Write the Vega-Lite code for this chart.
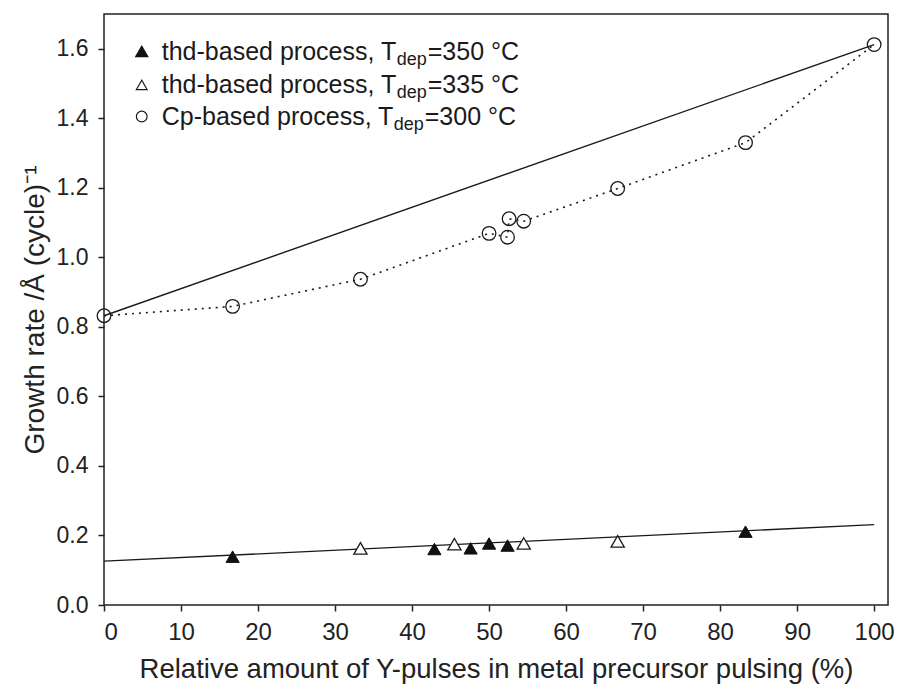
{
  "$schema": "https://vega.github.io/schema/vega-lite/v6.json",
  "width": 784,
  "height": 591,
  "autosize": {"type": "none"},
  "padding": {"left": 104, "top": 14, "right": 10, "bottom": 84},
  "background": "white",
  "config": {
    "font": "Liberation Sans",
    "view": {"stroke": "#222", "strokeWidth": 1.5},
    "axis": {
      "grid": false,
      "domain": false,
      "tickColor": "#222",
      "tickWidth": 1.5,
      "tickSize": 6,
      "labelColor": "#222",
      "titleColor": "#222",
      "labelFont": "Liberation Sans",
      "titleFont": "Liberation Sans",
      "titleFontWeight": "normal"
    }
  },
  "datasets": {
    "cp": [
      {"x": 0, "y": 0.832},
      {"x": 16.7, "y": 0.859},
      {"x": 33.3, "y": 0.937},
      {"x": 50.0, "y": 1.069},
      {"x": 52.4, "y": 1.058},
      {"x": 52.6, "y": 1.111},
      {"x": 54.5, "y": 1.104},
      {"x": 66.7, "y": 1.198},
      {"x": 83.3, "y": 1.330},
      {"x": 100, "y": 1.612}
    ],
    "upper": [
      {"x": 0, "y": 0.832},
      {"x": 100, "y": 1.612}
    ],
    "lower": [
      {"x": 0, "y": 0.126},
      {"x": 100, "y": 0.231}
    ],
    "thd350": [
      {"x": 16.7, "y": 0.139},
      {"x": 42.9, "y": 0.161},
      {"x": 47.6, "y": 0.163},
      {"x": 50.0, "y": 0.177},
      {"x": 52.4, "y": 0.171},
      {"x": 83.3, "y": 0.211}
    ],
    "thd335": [
      {"x": 33.3, "y": 0.163},
      {"x": 45.5, "y": 0.175},
      {"x": 54.5, "y": 0.177},
      {"x": 66.7, "y": 0.183}
    ],
    "legend": [
      {"series": "thd350", "label": "thd-based process, T", "sub": "dep", "temp": "=350 °C"},
      {"series": "thd335", "label": "thd-based process, T", "sub": "dep", "temp": "=335 °C"},
      {"series": "cp", "label": "Cp-based process, T", "sub": "dep", "temp": "=300 °C"}
    ]
  },
  "layer": [
    {
      "data": {"name": "upper"},
      "mark": {"type": "line", "color": "#1a1a1a", "strokeWidth": 1.4},
      "encoding": {
        "x": {
          "field": "x",
          "type": "quantitative",
          "scale": {"domain": [0, 101.8], "nice": false, "zero": false},
          "axis": {
            "values": [0, 10, 20, 30, 40, 50, 60, 70, 80, 90, 100],
            "format": "d",
            "labelFontSize": 24,
            "labelPadding": 9,
            "titleFontSize": 27.5,
            "titlePadding": 11,
            "title": "Relative amount of Y-pulses in metal precursor pulsing (%)"
          }
        },
        "y": {
          "field": "y",
          "type": "quantitative",
          "scale": {"domain": [0, 1.7], "nice": false},
          "axis": {
            "values": [0, 0.2, 0.4, 0.6, 0.8, 1.0, 1.2, 1.4, 1.6],
            "format": ".1f",
            "labelFontSize": 23,
            "labelPadding": 10,
            "titleFontSize": 28,
            "titlePadding": 7,
            "title": "Growth rate /Å (cycle)⁻¹"
          }
        }
      }
    },
    {
      "data": {"name": "lower"},
      "mark": {"type": "line", "color": "#1a1a1a", "strokeWidth": 1.3},
      "encoding": {
        "x": {"field": "x", "type": "quantitative", "scale": {"domain": [0, 101.8], "nice": false, "zero": false}},
        "y": {"field": "y", "type": "quantitative", "scale": {"domain": [0, 1.7], "nice": false}}
      }
    },
    {
      "data": {"name": "cp"},
      "mark": {"type": "line", "color": "#1a1a1a", "strokeWidth": 1.6, "strokeDash": [2, 5]},
      "encoding": {
        "x": {"field": "x", "type": "quantitative", "scale": {"domain": [0, 101.8], "nice": false, "zero": false}},
        "y": {"field": "y", "type": "quantitative", "scale": {"domain": [0, 1.7], "nice": false}}
      }
    },
    {
      "data": {"name": "cp"},
      "mark": {"type": "point", "shape": "circle", "size": 185, "filled": false, "stroke": "#1a1a1a", "strokeWidth": 1.3, "opacity": 1},
      "encoding": {
        "x": {"field": "x", "type": "quantitative", "scale": {"domain": [0, 101.8], "nice": false, "zero": false}},
        "y": {"field": "y", "type": "quantitative", "scale": {"domain": [0, 1.7], "nice": false}}
      }
    },
    {
      "data": {"name": "thd335"},
      "mark": {"type": "point", "shape": "triangle-up", "size": 175, "filled": true, "fill": "white", "stroke": "#1a1a1a", "strokeWidth": 1.3, "opacity": 1},
      "encoding": {
        "x": {"field": "x", "type": "quantitative", "scale": {"domain": [0, 101.8], "nice": false, "zero": false}},
        "y": {"field": "y", "type": "quantitative", "scale": {"domain": [0, 1.7], "nice": false}}
      }
    },
    {
      "data": {"name": "thd350"},
      "mark": {"type": "point", "shape": "triangle-up", "size": 175, "filled": true, "fill": "#111", "stroke": "#111", "strokeWidth": 1, "opacity": 1},
      "encoding": {
        "x": {"field": "x", "type": "quantitative", "scale": {"domain": [0, 101.8], "nice": false, "zero": false}},
        "y": {"field": "y", "type": "quantitative", "scale": {"domain": [0, 1.7], "nice": false}}
      }
    },
    {
      "data": {"name": "legend"},
      "transform": [{"filter": "datum.series === 'thd350'"}],
      "mark": {"type": "point", "shape": "triangle-up", "size": 115, "filled": true, "fill": "#111", "stroke": "#111", "opacity": 1},
      "encoding": {"x": {"datum": 4.9, "type": "quantitative"}, "y": {"datum": 1.592, "type": "quantitative"}}
    },
    {
      "data": {"name": "legend"},
      "transform": [{"filter": "datum.series === 'thd335'"}],
      "mark": {"type": "point", "shape": "triangle-up", "size": 115, "filled": true, "fill": "white", "stroke": "#1a1a1a", "strokeWidth": 1.2, "opacity": 1},
      "encoding": {"x": {"datum": 4.9, "type": "quantitative"}, "y": {"datum": 1.496, "type": "quantitative"}}
    },
    {
      "data": {"name": "legend"},
      "transform": [{"filter": "datum.series === 'cp'"}],
      "mark": {"type": "point", "shape": "circle", "size": 115, "filled": false, "stroke": "#1a1a1a", "strokeWidth": 1.2, "opacity": 1},
      "encoding": {"x": {"datum": 4.9, "type": "quantitative"}, "y": {"datum": 1.405, "type": "quantitative"}}
    },
    {
      "data": {"name": "legend"},
      "transform": [{"filter": "datum.series === 'thd350'"}],
      "mark": {"type": "text", "align": "left", "baseline": "middle", "fontSize": 25, "color": "#1a1a1a"},
      "encoding": {"x": {"datum": 7.5, "type": "quantitative"}, "y": {"datum": 1.592, "type": "quantitative"}, "text": {"field": "label"}}
    },
    {
      "data": {"name": "legend"},
      "transform": [{"filter": "datum.series === 'thd350'"}],
      "mark": {"type": "text", "align": "left", "baseline": "middle", "fontSize": 18, "dx": 235, "dy": 8, "color": "#1a1a1a"},
      "encoding": {"x": {"datum": 7.5, "type": "quantitative"}, "y": {"datum": 1.592, "type": "quantitative"}, "text": {"field": "sub"}}
    },
    {
      "data": {"name": "legend"},
      "transform": [{"filter": "datum.series === 'thd350'"}],
      "mark": {"type": "text", "align": "left", "baseline": "middle", "fontSize": 25, "dx": 266, "color": "#1a1a1a"},
      "encoding": {"x": {"datum": 7.5, "type": "quantitative"}, "y": {"datum": 1.592, "type": "quantitative"}, "text": {"field": "temp"}}
    },
    {
      "data": {"name": "legend"},
      "transform": [{"filter": "datum.series === 'thd335'"}],
      "mark": {"type": "text", "align": "left", "baseline": "middle", "fontSize": 25, "color": "#1a1a1a"},
      "encoding": {"x": {"datum": 7.5, "type": "quantitative"}, "y": {"datum": 1.496, "type": "quantitative"}, "text": {"field": "label"}}
    },
    {
      "data": {"name": "legend"},
      "transform": [{"filter": "datum.series === 'thd335'"}],
      "mark": {"type": "text", "align": "left", "baseline": "middle", "fontSize": 18, "dx": 235, "dy": 8, "color": "#1a1a1a"},
      "encoding": {"x": {"datum": 7.5, "type": "quantitative"}, "y": {"datum": 1.496, "type": "quantitative"}, "text": {"field": "sub"}}
    },
    {
      "data": {"name": "legend"},
      "transform": [{"filter": "datum.series === 'thd335'"}],
      "mark": {"type": "text", "align": "left", "baseline": "middle", "fontSize": 25, "dx": 266, "color": "#1a1a1a"},
      "encoding": {"x": {"datum": 7.5, "type": "quantitative"}, "y": {"datum": 1.496, "type": "quantitative"}, "text": {"field": "temp"}}
    },
    {
      "data": {"name": "legend"},
      "transform": [{"filter": "datum.series === 'cp'"}],
      "mark": {"type": "text", "align": "left", "baseline": "middle", "fontSize": 25, "color": "#1a1a1a"},
      "encoding": {"x": {"datum": 7.5, "type": "quantitative"}, "y": {"datum": 1.405, "type": "quantitative"}, "text": {"field": "label"}}
    },
    {
      "data": {"name": "legend"},
      "transform": [{"filter": "datum.series === 'cp'"}],
      "mark": {"type": "text", "align": "left", "baseline": "middle", "fontSize": 18, "dx": 232, "dy": 8, "color": "#1a1a1a"},
      "encoding": {"x": {"datum": 7.5, "type": "quantitative"}, "y": {"datum": 1.405, "type": "quantitative"}, "text": {"field": "sub"}}
    },
    {
      "data": {"name": "legend"},
      "transform": [{"filter": "datum.series === 'cp'"}],
      "mark": {"type": "text", "align": "left", "baseline": "middle", "fontSize": 25, "dx": 263, "color": "#1a1a1a"},
      "encoding": {"x": {"datum": 7.5, "type": "quantitative"}, "y": {"datum": 1.405, "type": "quantitative"}, "text": {"field": "temp"}}
    }
  ]
}
